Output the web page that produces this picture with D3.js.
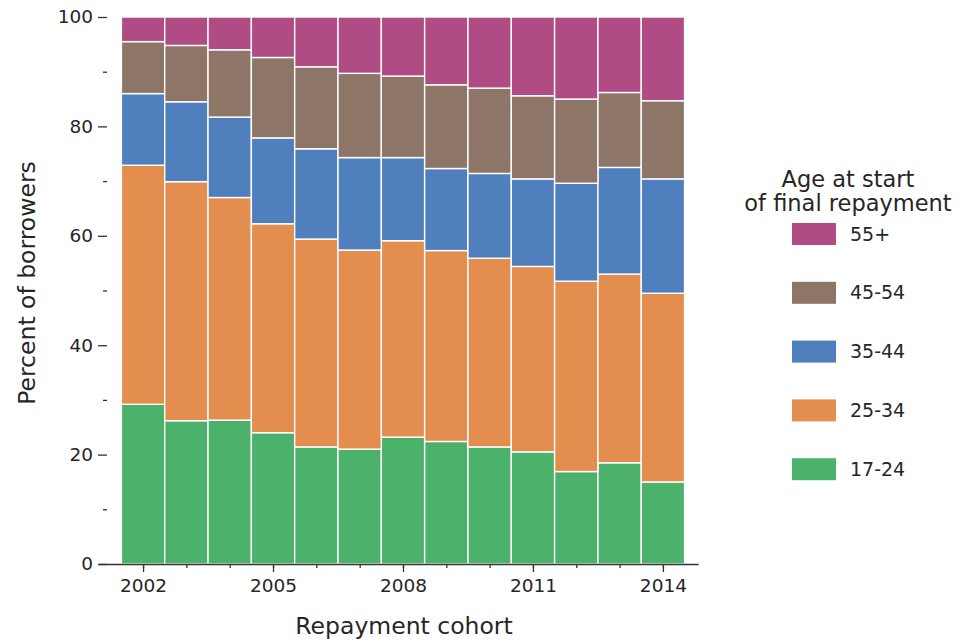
<!DOCTYPE html>
<html>
<head>
<meta charset="utf-8">
<script src="https://cdn.jsdelivr.net/npm/d3@7"></script>
<style>
  body { margin: 0; background: #fff; }
  text { font-family: "DejaVu Sans", sans-serif; fill: #262626; }
</style>
</head>
<body>
<svg width="962" height="644"></svg>
<script>
var years = [2002, 2003, 2004, 2005, 2006, 2007, 2008, 2009, 2010, 2011, 2012, 2013, 2014];
var ageGroups = ['17-24', '25-34', '35-44', '45-54', '55+'];
var share1724 = [29.2, 26.2, 26.3, 24.0, 21.4, 21.0, 23.2, 22.4, 21.4, 20.5, 16.9, 18.5, 15.0];
var share2534 = [43.7, 43.7, 40.7, 38.2, 38.0, 36.4, 35.9, 34.9, 34.5, 33.9, 34.8, 34.5, 34.5];
var share3544 = [13.1, 14.6, 14.7, 15.7, 16.5, 16.9, 15.2, 15.0, 15.5, 16.0, 17.9, 19.5, 20.9];
var share4554 = [9.5, 10.3, 12.3, 14.7, 15.0, 15.4, 14.9, 15.3, 15.6, 15.2, 15.4, 13.7, 14.3];
var share55 = [4.5, 5.2, 6.0, 7.4, 9.1, 10.3, 10.8, 12.4, 13.0, 14.4, 15.0, 13.8, 15.3];
var yTicks = [0, 20, 40, 60, 80, 100];
var yMinor = [10, 30, 50, 70, 90];
var xTicks = [2002, 2005, 2008, 2011, 2014];

var colors = {'17-24': '#4bb16b', '25-34': '#e38d4f', '35-44': '#4f7fbd', '45-54': '#8d7667', '55+': '#b04c83'};

main();

function main() {
    var svg = d3.select('svg');
    var x = d3.scaleLinear().domain([2000.96, 2014.81]).range([98, 698]);
    var y = d3.scaleLinear().domain([0, 100]).range([564, 17]);

    var rows = years.map(function(yr, i) {
        return {year: yr, '17-24': share1724[i], '25-34': share2534[i], '35-44': share3544[i], '45-54': share4554[i], '55+': share55[i]};
    });
    var series = d3.stack().keys(ageGroups)(rows);

    var layers = svg.append('g').selectAll('g').data(series).enter().append('g')
        .attr('fill', function(d) { return colors[d.key]; });
    layers.selectAll('rect').data(function(d) { return d; }).enter().append('rect')
        .attr('x', function(d) { return x(d.data.year - 0.5); })
        .attr('width', function(d) { return x(d.data.year + 0.5) - x(d.data.year - 0.5); })
        .attr('y', function(d) { return y(d[1]); })
        .attr('height', function(d) { return y(d[0]) - y(d[1]); })
        .attr('stroke', '#fff').attr('stroke-width', 1.4);

    addAxes(svg, x, y);
    addLegend(svg);
}

function addAxes(svg, x, y) {
    var xMinor = svg.append('g').attr('transform', 'translate(0,564)')
        .call(d3.axisBottom(x).tickValues(years).tickSize(4).tickSizeOuter(0).tickFormat(''));
    xMinor.select('.domain').remove();
    var xAxis = svg.append('g').attr('transform', 'translate(0,564)')
        .call(d3.axisBottom(x).tickValues(xTicks).tickSize(8).tickSizeOuter(0).tickPadding(7).tickFormat(d3.format('d')));
    xAxis.selectAll('text').style('font-size', '18.5px');
    xAxis.select('.domain').attr('stroke', '#333').attr('stroke-width', 1.5);

    var yMin = svg.append('g').attr('transform', 'translate(107,0)')
        .call(d3.axisLeft(y).tickValues(yMinor).tickSize(4).tickFormat(''));
    yMin.select('.domain').remove();
    var yAxis = svg.append('g').attr('transform', 'translate(107,0)')
        .call(d3.axisLeft(y).tickValues(yTicks).tickSize(9).tickPadding(5));
    yAxis.select('.domain').remove();
    yAxis.selectAll('text').style('font-size', '18.5px');

    svg.selectAll('.tick line').attr('stroke', '#333').attr('stroke-width', 1.3);

    svg.append('text').attr('x', 404).attr('y', 634)
        .style('text-anchor', 'middle').style('font-size', '23.5px')
        .text('Repayment cohort');
    svg.append('text').attr('transform', 'translate(35,283) rotate(-90)')
        .style('text-anchor', 'middle').style('font-size', '23.5px')
        .text('Percent of borrowers');
}

function addLegend(svg) {
    var title = ['Age at start', 'of final repayment'];
    svg.selectAll('text.lt').data(title).enter().append('text').attr('class', 'lt')
        .attr('x', 848).attr('y', function(d, i) { return 187 + i * 24; })
        .style('text-anchor', 'middle').style('font-size', '22.5px')
        .text(function(d) { return d; });

    var items = ageGroups.slice().reverse();
    var legend = svg.selectAll('g.legend').data(items).enter().append('g').attr('class', 'legend')
        .attr('transform', function(d, i) { return 'translate(792,' + (234 + i * 58.8) + ')'; });
    legend.append('rect').attr('x', 0).attr('y', -11).attr('width', 44).attr('height', 22)
        .attr('fill', function(d) { return colors[d]; });
    legend.append('text').attr('x', 58).attr('y', 0).attr('dy', '0.35em')
        .style('font-size', '19px')
        .text(function(d) { return d; });
}
</script>
</body>
</html>
